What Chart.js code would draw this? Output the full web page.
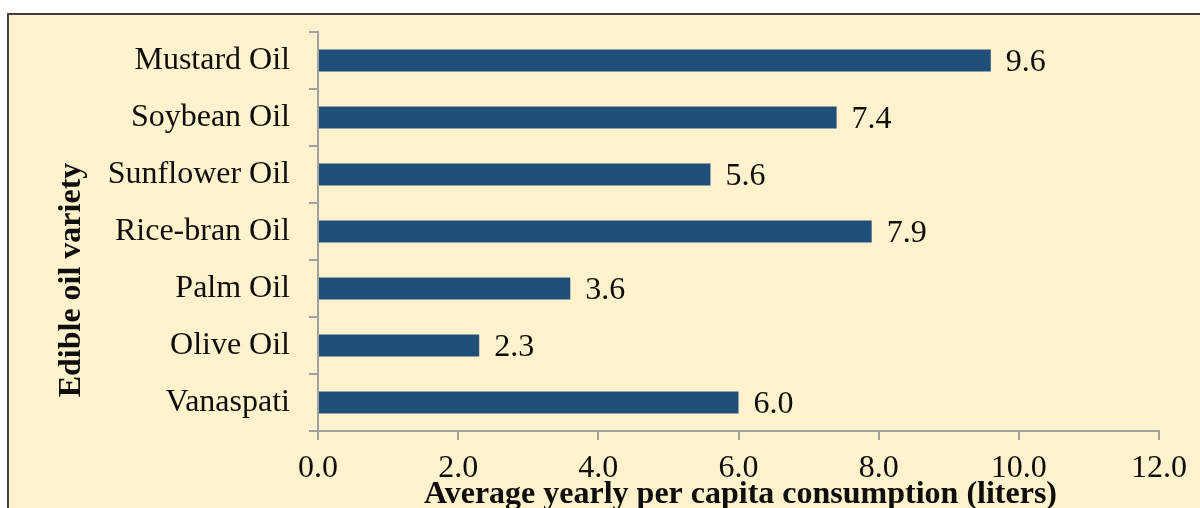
<!DOCTYPE html>
<html>
<head>
<meta charset="utf-8">
<script src="https://cdn.jsdelivr.net/npm/chart.js@4"></script>
<style>
  html, body { margin: 0; padding: 0; background: #fff; overflow: hidden; }
  #frame {
    position: absolute; left: 7px; top: 13px; width: 1220px; height: 520px;
    border-left: 2px solid #404040; border-top: 2px solid #404040;
    background: #FFF2CC;
  }
  #wrap { position: absolute; left: 0; top: 0; width: 1200px; height: 508px; }
</style>
</head>
<body>
<div id="frame"></div>
<div id="wrap"><canvas id="chart"></canvas></div>
<script>
const varieties = ['Mustard Oil', 'Soybean Oil', 'Sunflower Oil', 'Rice-bran Oil', 'Palm Oil', 'Olive Oil', 'Vanaspati'];
const consumption = [9.6, 7.4, 5.6, 7.9, 3.6, 2.3, 6.0];
const xTicks = [0, 2, 4, 6, 8, 10, 12];
const xTitle = 'Average yearly per capita consumption (liters)';
const yTitle = 'Edible oil variety';

const serif = 'Liberation Serif, Times New Roman, serif';
const axisGray = '#a0a0a0';
const ink = '#0d0d0d';

// value labels at bar ends + axis titles placed like the original
const extras = {
  id: 'extras',
  afterDatasetsDraw(chart) {
    const ctx = chart.ctx;
    const meta = chart.getDatasetMeta(0);
    ctx.save();
    ctx.font = '32px ' + serif;
    ctx.fillStyle = ink;
    ctx.textAlign = 'left';
    ctx.textBaseline = 'middle';
    meta.data.forEach((bar, i) => {
      ctx.fillText(consumption[i].toFixed(1), bar.x + 15, bar.y + 2);
    });

    const area = chart.chartArea;
    ctx.font = 'bold 32px ' + serif;
    ctx.textAlign = 'center';
    ctx.fillText(xTitle, (area.left + area.right) / 2 + 2, 495);

    ctx.translate(72, 280);
    ctx.rotate(-Math.PI / 2);
    ctx.fillText(yTitle, 0, 0);
    ctx.restore();
  }
};

new Chart(document.getElementById('chart'), {
  type: 'bar',
  data: {
    labels: varieties,
    datasets: [{
      data: consumption,
      backgroundColor: '#1F4E79',
      barPercentage: 0.385,
      categoryPercentage: 1.0
    }]
  },
  options: {
    indexAxis: 'y',
    responsive: true,
    maintainAspectRatio: false,
    animation: false,
    layout: { padding: { top: 32, right: 41, bottom: 0, left: 0 } },
    plugins: {
      legend: { display: false },
      tooltip: { enabled: false }
    },
    scales: {
      x: {
        min: 0,
        max: 12,
        afterBuildTicks: (scale) => { scale.ticks = xTicks.map(v => ({ value: v })); },
        afterFit: (scale) => { scale.height = 77; scale.paddingLeft = 0; scale.paddingRight = 0; },
        border: { color: axisGray, width: 2 },
        grid: { drawOnChartArea: false, color: axisGray, lineWidth: 2, tickLength: 9 },
        ticks: {
          color: ink,
          font: { family: serif, size: 32 },
          padding: 9,
          callback: (v) => Number(v).toFixed(1)
        }
      },
      y: {
        afterFit: (scale) => { scale.width = 318; scale.paddingTop = 0; scale.paddingBottom = 0; },
        border: { color: axisGray, width: 2 },
        grid: { offset: true, drawOnChartArea: false, color: axisGray, lineWidth: 2, tickLength: 9 },
        ticks: {
          color: ink,
          font: { family: serif, size: 32 },
          padding: 19
        }
      }
    }
  },
  plugins: [extras]
});
</script>
</body>
</html>
